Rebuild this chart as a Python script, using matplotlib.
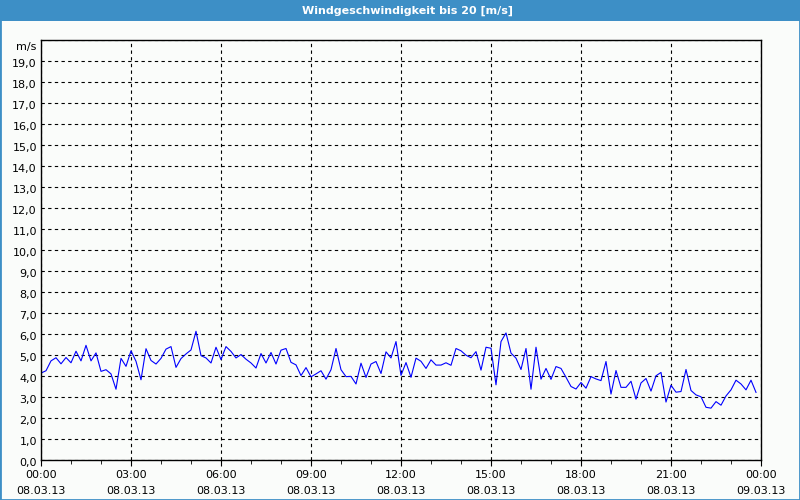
import numpy as np
import matplotlib.pyplot as plt
from matplotlib.patches import Rectangle
from matplotlib.transforms import ScaledTranslation

# wind speed, 10-minute values from 00:00 to 23:50 on 08.03.13
speed = [4.14, 4.25, 4.72, 4.87, 4.58, 4.88, 4.63, 5.18, 4.72, 5.46,
         4.72, 5.10, 4.22, 4.30, 4.10, 3.37, 4.84, 4.46, 5.20, 4.70,
         3.82, 5.30, 4.74, 4.57, 4.84, 5.28, 5.40, 4.41, 4.83, 5.05,
         5.24, 6.13, 4.97, 4.86, 4.62, 5.37, 4.78, 5.40, 5.17, 4.86,
         5.02, 4.80, 4.62, 4.38, 5.07, 4.62, 5.12, 4.57, 5.23, 5.31,
         4.65, 4.53, 4.02, 4.40, 3.96, 4.10, 4.25, 3.85, 4.30, 5.31,
         4.30, 3.97, 3.98, 3.62, 4.61, 3.93, 4.57, 4.69, 4.12, 5.15,
         4.86, 5.64, 4.03, 4.64, 3.94, 4.85, 4.70, 4.36, 4.77, 4.52,
         4.52, 4.63, 4.51, 5.31, 5.20, 4.99, 4.87, 5.16, 4.28, 5.37,
         5.32, 3.58, 5.64, 6.05, 5.09, 4.85, 4.31, 5.31, 3.37, 5.37,
         3.85, 4.36, 3.84, 4.45, 4.36, 3.94, 3.50, 3.38, 3.69, 3.42,
         3.97, 3.86, 3.78, 4.69, 3.14, 4.26, 3.46, 3.46, 3.75, 2.90,
         3.67, 3.88, 3.28, 4.01, 4.17, 2.76, 3.56, 3.23, 3.26, 4.31,
         3.31, 3.10, 3.01, 2.51, 2.47, 2.78, 2.61, 3.05, 3.34, 3.80,
         3.62, 3.34, 3.80, 3.22]
hours = np.arange(len(speed)) / 6.0

xtick_labels = ['00:00\n08.03.13', '03:00\n08.03.13', '06:00\n08.03.13',
                '09:00\n08.03.13', '12:00\n08.03.13', '15:00\n08.03.13',
                '18:00\n08.03.13', '21:00\n08.03.13', '00:00\n09.03.13']
ytick_labels = ['%d,0' % v for v in range(20)] + ['m/s']
title = 'Windgeschwindigkeit bis 20 [m/s]'

frame = '#3d8fc6'
bg = '#fafcfa'

fig = plt.figure(figsize=(8, 5), dpi=100, facecolor=bg)

# window frame and title bar
fig.patches.append(Rectangle((0, 0), 1, 1, transform=fig.transFigure,
                             facecolor='none', edgecolor=frame, linewidth=2))
fig.patches.append(Rectangle((0, 1 - 21 / 500), 1, 21 / 500, transform=fig.transFigure,
                             facecolor=frame, edgecolor='none'))
fig.text(0.51, 1 - 10.5 / 500, title, ha='center', va='center',
         color='white', fontsize=8, fontweight='bold')

ax = fig.add_axes([41 / 800, 40 / 500, 720 / 800, 420 / 500])
ax.set_facecolor(bg)
ax.plot(hours, speed, color='#0000ff', linewidth=0.8)

ax.set_xlim(0, 24)
ax.set_ylim(0, 20)
ax.set_xticks(np.arange(0, 25, 3))
ax.set_xticklabels(xtick_labels, fontsize=8, linespacing=1.75)
ax.set_xticks(np.arange(0, 25, 1), minor=True)
ax.set_yticks(np.arange(0, 21, 1))
ax.set_yticklabels(ytick_labels, fontsize=8)

ax.tick_params(axis='y', length=0, pad=3)
ax.tick_params(axis='x', which='major', length=4, direction='out', pad=3)
ax.tick_params(axis='x', which='minor', length=3, direction='out')
ax.grid(True, color='black', linestyle=(0, (3, 3)), linewidth=0.8)
for s in ax.spines.values():
    s.set_linewidth(1)
    s.set_color('black')

# unit label sits a little below the top edge, other labels slightly low
shift = ScaledTranslation(0, -2 / 100, fig.dpi_scale_trans)
for lab in ax.get_yticklabels():
    lab.set_transform(lab.get_transform() + shift)
unit = ax.get_yticklabels()[-1]
unit.set_transform(unit.get_transform() + ScaledTranslation(0, -4 / 100, fig.dpi_scale_trans))

fig.savefig('out.png', dpi=100, facecolor=bg)
